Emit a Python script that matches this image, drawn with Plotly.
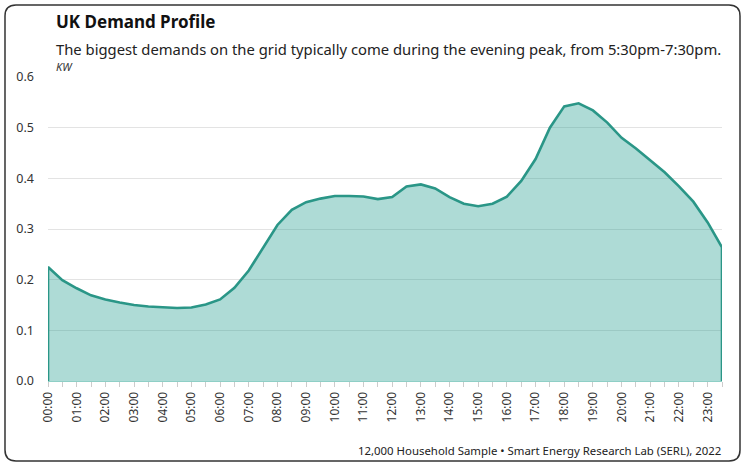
import plotly.graph_objects as go

times = [f"{h:02d}:{m:02d}" for h in range(24) for m in (0, 30)]
demand_kw = [
    0.225, 0.199, 0.183, 0.169, 0.161, 0.155, 0.150, 0.147, 0.145, 0.144,
    0.145, 0.151, 0.161, 0.184, 0.218, 0.262, 0.308, 0.338, 0.353, 0.360,
    0.365, 0.365, 0.364, 0.359, 0.363, 0.384, 0.388, 0.380, 0.363, 0.350,
    0.345, 0.350, 0.364, 0.395, 0.438, 0.500, 0.542, 0.548, 0.534, 0.510,
    0.480, 0.459, 0.436, 0.412, 0.384, 0.354, 0.313, 0.264,
]
y_ticks = [0.0, 0.1, 0.2, 0.3, 0.4, 0.5, 0.6]
hour_labels = [t if t.endswith(":00") else "" for t in times]

title = "UK Demand Profile"
subtitle = "The biggest demands on the grid typically come during the evening peak, from 5:30pm-7:30pm."
unit = "KW"
source = "12,000 Household Sample \u2022 Smart Energy Research Lab (SERL), 2022"

FONT = "Noto Sans"
W, H = 745, 466
ML, MR, MT, MB = 48, 23, 77, 85
pw, ph = W - ML - MR, H - MT - MB

def px(x):
    return (x - ML) / pw

def py(y):
    return 1 - (y - MT) / ph

# polygon outline: drop to zero at both ends so the edges are drawn
xs = [times[0]] + times + [times[-1]]
ys = [0] + demand_kw + [0]

fig = go.Figure()
fig.add_trace(go.Scatter(
    x=xs, y=ys, mode="lines", fill="tozeroy",
    fillcolor="rgba(42,160,146,0.38)",
    line=dict(color="#2a9687", width=2.6),
    hoverinfo="skip", showlegend=False,
))

fig.update_layout(
    width=W, height=H,
    margin=dict(l=ML, r=MR, t=MT, b=MB),
    paper_bgcolor="white", plot_bgcolor="white",
    font=dict(family=FONT, color="#333333"),
    xaxis=dict(
        type="category", range=[0, len(times) - 1],
        tickmode="array", tickvals=times, ticktext=hour_labels,
        tickangle=-90, ticks="outside", ticklen=5, tickcolor="#cccccc",
        tickfont=dict(size=12, color="#333333"),
        showgrid=False, showline=True, linecolor="#8fcfc6", linewidth=1,
        zeroline=False, automargin=False,
    ),
    yaxis=dict(
        range=[0, 0.6], tickmode="array", tickvals=y_ticks,
        ticktext=[f"{v:.1f}" for v in y_ticks],
        tickfont=dict(size=12.5, color="#333333"),
        showgrid=True, gridcolor="#e3e3e3", gridwidth=1,
        zeroline=False, showline=False, ticklabelstandoff=13,
        automargin=False,
    ),
)

fig.add_annotation(text=f"<b>{title}</b>", xref="paper", yref="paper",
                   x=px(54), y=py(21), xanchor="left", yanchor="middle",
                   showarrow=False, font=dict(size=17, color="#111111", family=FONT))
fig.add_annotation(text=subtitle, xref="paper", yref="paper",
                   x=px(54), y=py(49), xanchor="left", yanchor="middle",
                   showarrow=False, font=dict(size=14.8, color="#222222", family=FONT))
fig.add_annotation(text=f"<i>{unit}</i>", xref="paper", yref="paper",
                   x=px(54), y=py(67), xanchor="left", yanchor="middle",
                   showarrow=False, font=dict(size=11, color="#333333", family=FONT))
fig.add_annotation(text=source, xref="paper", yref="paper",
                   x=px(723), y=py(450), xanchor="right", yanchor="middle",
                   showarrow=False, font=dict(size=11.4, color="#222222", family=FONT))

# rounded frame around the chart
x0, y0, x1, y1, r = 5, 5, 740, 461, 11
path = (f"M {x0+r},{y0} L {x1-r},{y0} Q {x1},{y0} {x1},{y0+r} "
        f"L {x1},{y1-r} Q {x1},{y1} {x1-r},{y1} L {x0+r},{y1} "
        f"Q {x0},{y1} {x0},{y1-r} L {x0},{y0+r} Q {x0},{y0} {x0+r},{y0} Z")

def conv(p):
    out = []
    for tok in p.split():
        if "," in tok:
            a, b = tok.split(",")
            out.append(f"{px(float(a)):.5f},{py(float(b)):.5f}")
        else:
            out.append(tok)
    return " ".join(out)

fig.add_shape(type="path", path=conv(path), xref="paper", yref="paper",
              line=dict(color="#333333", width=1.5), fillcolor="rgba(0,0,0,0)",
              layer="above")

fig.write_html("out.html", config={"displayModeBar": False},
               post_script="document.body.style.margin='0px';")
